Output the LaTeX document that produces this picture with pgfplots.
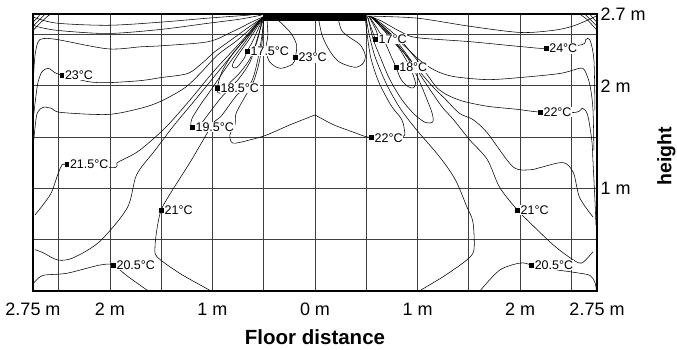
\documentclass[border=0pt]{standalone}
\usepackage{fontspec}
\setmainfont{Liberation Sans}
\usepackage{pgfplots}
\pgfplotsset{compat=1.18}
\pgfplotsset{c/.style={black, line width=0.55pt, smooth, tension=0.5, mark=none}}
\begin{document}
\begin{tikzpicture}
\useasboundingbox (-33pt,-58.3pt) rectangle (644pt,290.7pt);
\begin{axis}[
  scale only axis, width=564pt, height=276.7pt,
  xmin=-2.75, xmax=2.75, ymin=0, ymax=2.7,
  xtick={-2.75,-2,-1,0,1,2,2.75},
  xticklabels={2.75 m,2 m,1 m,0 m,1 m,2 m,2.75 m},
  minor xtick={-2.5,-1.5,-0.5,0.5,1.5,2.5},
  ytick={1,2,2.7}, yticklabels={1 m,2 m,2.7 m},
  minor ytick={0.5,1.5,2.5},
  yticklabel pos=right,
  grid=both,
  major grid style={black!75, line width=0.7pt},
  minor grid style={black!75, line width=0.7pt},
  major tick length=0pt, minor tick length=0pt,
  tick label style={font=\fontsize{18}{20}\selectfont},
  xticklabel style={yshift=-8.5pt},
  axis line style={line width=1.8pt},
  xlabel={Floor distance}, ylabel={height},
  xlabel style={font=\fontsize{20.5}{22}\selectfont\bfseries, at={(axis description cs:0.5,0)}, anchor=center, yshift=-46pt},
  ylabel style={font=\fontsize{19.5}{21}\selectfont\bfseries, at={(axis description cs:1.123,0.485)}, anchor=center},
]
% diffuser
\addplot[fill=black, draw=black] coordinates {(-0.51,2.635) (0.49,2.635) (0.49,2.7) (-0.51,2.7)} -- cycle;
% corner fans
\addplot[c] coordinates {(-2.75,2.62) (-2.71,2.66) (-2.68,2.70)};
\addplot[c] coordinates {(-2.75,2.58) (-2.68,2.65) (-2.63,2.70)};
\addplot[c] coordinates {(-2.75,2.54) (-2.65,2.64) (-2.58,2.70)};
\addplot[c] coordinates {(2.75,2.62) (2.71,2.66) (2.68,2.70)};
\addplot[c] coordinates {(2.75,2.58) (2.68,2.65) (2.63,2.70)};
\addplot[c] coordinates {(2.75,2.54) (2.66,2.64) (2.58,2.70)};
% left upper contours
\addplot[c] coordinates {(-2.745,2.68) (-2.72,2.66) (-2.51,2.61) (-2.02,2.59) (-1.51,2.62) (-1.04,2.66) (-0.63,2.69)};
\addplot[c] coordinates {(-2.745,2.60) (-2.72,2.58) (-2.51,2.54) (-2.02,2.51) (-1.50,2.55) (-1.04,2.61) (-0.73,2.65) (-0.52,2.69)};
\addplot[c] coordinates {(-2.745,2.10) (-2.73,2.30) (-2.70,2.43) (-2.65,2.46) (-2.51,2.45) (-2.02,2.36) (-1.70,2.38) (-1.50,2.39) (-1.04,2.43) (-0.80,2.53) (-0.62,2.62) (-0.49,2.68)};
\addplot[c] coordinates {(-2.745,1.70) (-2.72,1.91) (-2.70,2.04) (-2.66,2.14) (-2.60,2.17) (-2.54,2.13) (-2.47,2.104) (-2.21,2.04) (-2.02,2.03) (-1.70,2.05) (-1.50,2.08) (-1.24,2.12) (-1.09,2.23) (-0.98,2.33) (-0.80,2.46) (-0.62,2.59) (-0.50,2.67)};
\addplot[c] coordinates {(-2.745,1.45) (-2.72,1.68) (-2.70,1.75) (-2.65,1.79) (-2.57,1.78) (-2.48,1.74) (-2.02,1.72) (-1.70,1.78) (-1.50,1.85) (-1.27,1.98) (-1.12,2.12) (-0.95,2.30) (-0.75,2.45) (-0.55,2.63)};
% 21.5 left
\addplot[c] coordinates {(-2.73,0.74) (-2.58,0.94) (-2.51,1.13) (-2.47,1.22) (-2.42,1.233) (-1.97,1.20) (-1.93,1.25) (-1.87,1.28) (-1.71,1.37) (-1.46,1.59) (-1.22,1.86) (-0.98,2.15) (-0.73,2.42) (-0.54,2.64)};
% long fan line left
\addplot[c] coordinates {(-2.73,0.40) (-2.65,0.37) (-2.51,0.30) (-2.36,0.32) (-2.10,0.48) (-1.83,0.81) (-1.74,1.13) (-1.56,1.37) (-1.37,1.62) (-1.17,1.86) (-0.95,2.13) (-0.73,2.40) (-0.52,2.66)};
% 21 left
\addplot[c] coordinates {(-1.02,0) (-1.09,0.04) (-1.32,0.17) (-1.54,0.33) (-1.56,0.43) (-1.54,0.61) (-1.50,0.788) (-1.41,0.95) (-1.22,1.25) (-1.12,1.42) (-1.05,1.54) (-0.98,1.65) (-0.91,1.71) (-0.76,1.91) (-0.63,2.02) (-0.57,2.20) (-0.52,2.47) (-0.50,2.66)};
% 19.5 loop
\addplot[c] coordinates {(-0.51,2.67) (-0.68,2.43) (-0.85,2.20) (-1.00,1.98) (-1.12,1.81) (-1.20,1.68) (-1.21,1.62) (-1.197,1.597) (-1.15,1.58) (-1.05,1.71) (-0.91,1.89) (-0.75,2.06) (-0.63,2.24) (-0.56,2.47) (-0.50,2.66)};
% 18.5 loop
\addplot[c] coordinates {(-0.51,2.66) (-0.65,2.49) (-0.81,2.30) (-0.91,2.13) (-0.953,1.98) (-0.945,1.93) (-0.90,1.94) (-0.85,2.01) (-0.73,2.13) (-0.63,2.27) (-0.56,2.45) (-0.51,2.67)};
% 17.5 loop
\addplot[c] coordinates {(-0.51,2.66) (-0.63,2.47) (-0.73,2.33) (-0.80,2.22) (-0.80,2.18) (-0.76,2.18) (-0.69,2.27) (-0.66,2.339) (-0.61,2.43) (-0.56,2.54) (-0.51,2.65)};
% 22 arch
\addplot[c] coordinates {(-0.50,2.66) (-0.51,2.49) (-0.54,2.25) (-0.60,2.04) (-0.69,1.88) (-0.77,1.73) (-0.78,1.62) (-0.83,1.52) (-0.80,1.44) (-0.64,1.47) (-0.47,1.52) (-0.24,1.62) (0,1.715)};
\addplot[c] coordinates {(0,1.715) (0.18,1.62) (0.38,1.545) (0.549,1.493) (0.85,1.50) (0.87,1.58) (0.84,1.68) (0.74,1.81) (0.62,2.04) (0.545,2.27) (0.51,2.49) (0.49,2.66)};
% centre loops
\addplot[c] coordinates {(-0.47,2.67) (-0.46,2.49) (-0.48,2.35) (-0.44,2.23) (-0.34,2.17) (-0.22,2.21) (-0.192,2.277) (-0.18,2.40) (-0.24,2.52) (-0.36,2.64) (-0.42,2.68)};
\addplot[c] coordinates {(0.03,2.68) (0.07,2.49) (0.15,2.33) (0.24,2.23) (0.39,2.18) (0.47,2.22) (0.49,2.30) (0.44,2.40) (0.34,2.47) (0.26,2.54) (0.22,2.68)};
% right fan
\addplot[c] coordinates {(0.50,2.66) (0.53,2.49) (0.59,2.27) (0.70,2.01) (0.83,1.78) (0.99,1.57) (1.22,1.30) (1.37,1.08) (1.48,0.82) (1.54,0.67) (1.55,0.40) (1.48,0.30) (1.27,0.15) (1.09,0.04) (1.02,0)};
\addplot[c] coordinates {(0.51,2.67) (0.55,2.56) (0.588,2.456) (0.60,2.43) (0.62,2.44) (0.60,2.53) (0.54,2.65) (0.52,2.68)};
\addplot[c] coordinates {(0.54,2.66) (0.66,2.47) (0.75,2.27) (0.79,2.18) (0.84,2.06) (0.91,1.99) (0.96,1.98) (0.98,2.03) (0.93,2.17) (0.83,2.35) (0.69,2.52) (0.55,2.67)};
\addplot[c] coordinates {(0.52,2.66) (0.565,2.46) (0.64,2.27) (0.73,2.06) (0.85,1.86) (0.97,1.72) (1.08,1.64) (1.15,1.65) (1.14,1.74) (1.09,1.87) (1.02,2.04) (0.91,2.26) (0.75,2.47) (0.57,2.67)};
\addplot[c] coordinates {(2.71,0.38) (2.60,0.27) (2.49,0.32) (2.32,0.45) (2.10,0.66) (1.973,0.788) (1.80,1.01) (1.68,1.28) (1.51,1.47) (1.35,1.67) (1.25,1.78) (1.15,1.92) (1.05,2.07) (0.94,2.24) (0.80,2.43) (0.65,2.59) (0.54,2.67)};
\addplot[c] coordinates {(2.71,0.72) (2.58,0.91) (2.52,1.15) (2.42,1.25) (2.19,1.20) (2.10,1.18) (1.93,1.21) (1.68,1.54) (1.54,1.67) (1.41,1.73) (1.27,1.87) (1.14,2.00) (1.02,2.14) (0.87,2.32) (0.71,2.50) (0.56,2.67)};
\addplot[c] coordinates {(2.74,0.64) (2.73,0.88) (2.71,1.28) (2.70,1.46) (2.66,1.71) (2.61,1.78) (2.54,1.74) (2.197,1.743) (1.97,1.77) (1.68,1.80) (1.44,1.85) (1.29,1.91) (1.19,1.98) (1.10,2.10) (0.98,2.27) (0.81,2.47) (0.63,2.62) (0.53,2.68)};
\addplot[c] coordinates {(2.72,1.37) (2.71,1.78) (2.68,2.01) (2.63,2.15) (2.58,2.17) (2.39,2.12) (2.00,2.08) (1.68,2.06) (1.35,2.09) (1.17,2.15) (1.02,2.25) (0.85,2.41) (0.68,2.56) (0.54,2.68)};
\addplot[c] coordinates {(2.73,1.76) (2.72,2.25) (2.68,2.45) (2.64,2.45) (2.60,2.40) (2.253,2.365) (2.03,2.38) (1.51,2.43) (0.99,2.47) (0.83,2.53) (0.63,2.64) (0.51,2.68)};
\addplot[c] coordinates {(0.50,2.68) (0.99,2.66) (1.51,2.58) (2.00,2.52) (2.32,2.54) (2.51,2.58) (2.68,2.65) (2.74,2.68)};
% bottom contours
\addplot[c] coordinates {(1.61,0) (1.80,0.20) (2.00,0.27) (2.111,0.251) (2.24,0.22) (2.52,0.18) (2.68,0.15) (2.73,0.08) (2.745,0)};
\addplot[c] coordinates {(-2.745,0.07) (-2.73,0.09) (-2.65,0.15) (-2.42,0.17) (-2.10,0.25) (-1.967,0.251) (-1.84,0.15) (-1.63,0)};
% labels
\addplot[only marks, mark=square*, mark size=2pt, black,
  point meta=explicit symbolic, nodes near coords,
  nodes near coords style={anchor=west, xshift=2.3pt, font=\fontsize{12.5}{12.5}\selectfont, fill=white, inner sep=0.8pt, text=black}]
  coordinates {
  (-2.47,2.104) [23°C]
  (-0.66,2.339) [17.5°C]
  (-0.192,2.277) [23°C]
  (-0.953,1.98) [18.5°C]
  (-1.197,1.597) [19.5°C]
  (-2.421,1.233) [21.5°C]
  (0.588,2.456) [17°C]
  (0.790,2.18) [18°C]
  (2.253,2.365) [24°C]
  (2.197,1.743) [22°C]
  (0.549,1.493) [22°C]
  (-1.498,0.788) [21°C]
  (-1.967,0.251) [20.5°C]
  (1.973,0.788) [21°C]
  (2.111,0.251) [20.5°C]
  };
\end{axis}
\end{tikzpicture}
\end{document}
